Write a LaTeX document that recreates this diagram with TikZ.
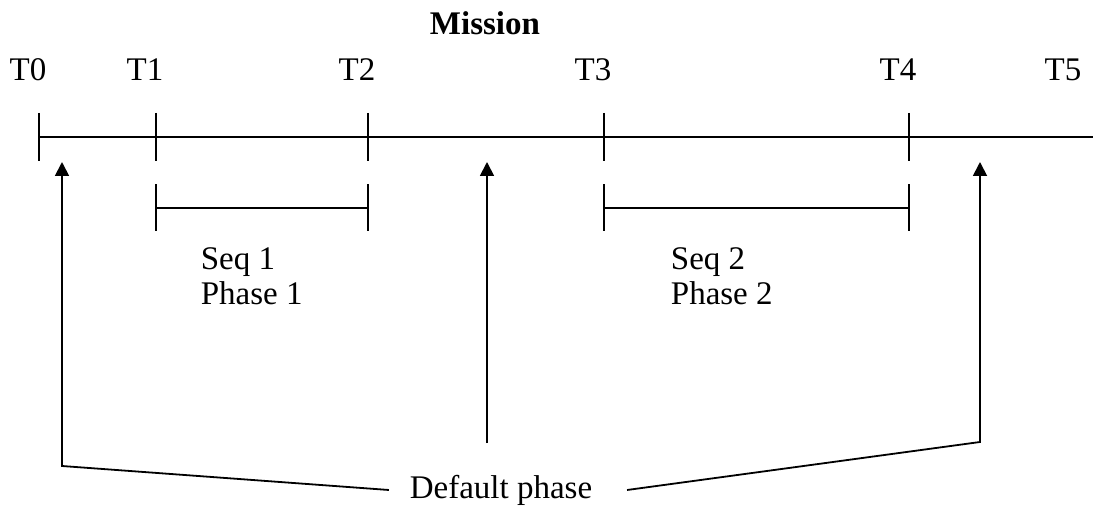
\documentclass[tikz,border=0pt]{standalone}
\usepackage{fontspec}
\setmainfont{Liberation Serif}
\usetikzlibrary{arrows.meta,positioning,calc}

\begin{document}
\begin{tikzpicture}[x=0.5pt, y=-0.5pt, line width=0.9pt,
  every node/.style={font=\fontsize{16.5}{17.5}\selectfont, inner sep=0pt},
  up/.style={-{Triangle[length=7pt,width=7pt]}}]
  \useasboundingbox (0,0) rectangle (1093,513);
  \node[font=\fontsize{16.5}{17.5}\selectfont\bfseries] (mission) at (485,23) {Mission};
  \coordinate (tend) at (1093,137);
  \foreach \i/\x in {0/39,1/156,2/368,3/604,4/909,5/1074} {
    \coordinate (t\i) at (\x,137);
    \node (lab\i) at (\x-11,70) {T\i};
  }
  \draw (t0) -- (tend);
  \foreach \i in {0,...,4}
    \draw ([yshift=12pt]t\i) -- ([yshift=-12pt]t\i);
  \coordinate (s1a) at (156,208);
  \coordinate (s1b) at (368,208);
  \coordinate (s2a) at (604,208);
  \coordinate (s2b) at (909,208);
  \foreach \c in {s1a,s1b,s2a,s2b}
    \draw ([yshift=11.75pt]\c) -- ([yshift=-11.75pt]\c);
  \draw (s1a) -- (s1b);
  \draw (s2a) -- (s2b);
  \node[anchor=west, align=left] (seq1) at (200,276) {Seq 1\\Phase 1};
  \node[anchor=west, align=left] (seq2) at (670,276) {Seq 2\\Phase 2};
  \node[inner xsep=10pt] (dflt) at (501,490) {Default phase};
  \coordinate (a0) at (62,466);
  \coordinate (h0) at (62,162);
  \coordinate (a2) at (487,443);
  \coordinate (h2) at (487,162);
  \coordinate (a5) at (980,442);
  \coordinate (h5) at (980,162);
  \draw[up] (dflt.west) -- (a0) -- (h0);
  \draw[up] (a2) -- (h2);
  \draw[up] ([xshift=7pt]dflt.east) -- (a5) -- (h5);
\end{tikzpicture}
\end{document}
